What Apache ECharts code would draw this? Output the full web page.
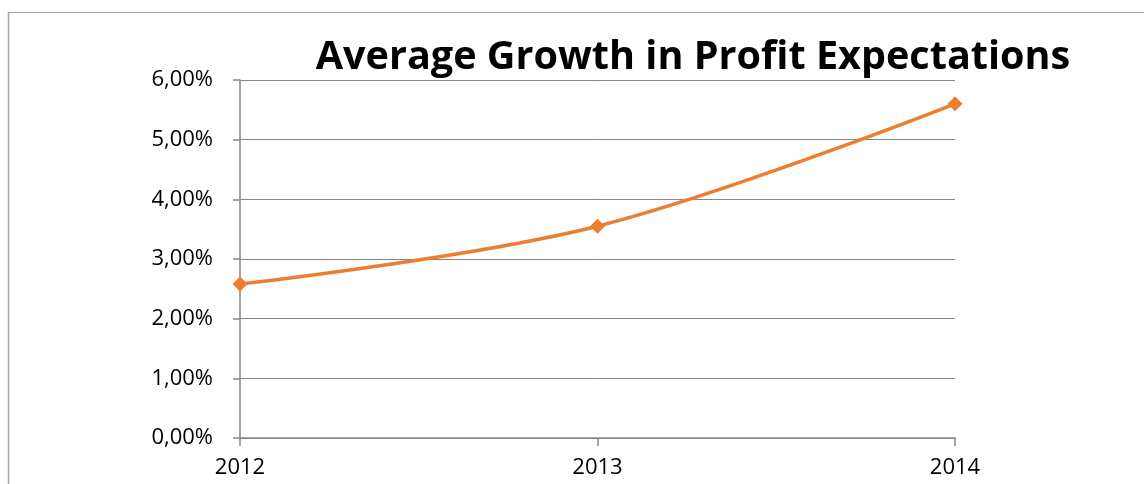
<!DOCTYPE html>
<html>
<head>
<meta charset="utf-8">
<script src="https://cdn.jsdelivr.net/npm/echarts@6/dist/echarts.min.js"></script>
<style>
  html, body { margin: 0; padding: 0; background: #fff; }
  #chart { width: 1144px; height: 484px; }
</style>
</head>
<body>
<div id="chart"></div>
<script>
// data
var years = ['2012', '2013', '2014'];
var growth = [2.58, 3.55, 5.60];
var yTicks = [0, 1, 2, 3, 4, 5, 6];

var axisGray = '#868686';
var fontFam = '"Open Sans", "Liberation Sans", sans-serif';

var chart = echarts.init(document.getElementById('chart'));
var option = {
  animation: false,
  backgroundColor: '#fff',
  title: {
    text: 'Average Growth in Profit Expectations',
    left: 688,
    top: 33,
    textAlign: 'center',
    textStyle: { fontFamily: fontFam, fontWeight: 'bold', fontSize: 39.6, color: '#000' }
  },
  grid: { left: 240, right: 189, top: 80, bottom: 46 },
  graphic: [
    { type: 'line', shape: { x1: 8, y1: 12.5, x2: 1144, y2: 12.5 }, style: { stroke: '#a6a6a6', lineWidth: 1 } },
    { type: 'line', shape: { x1: 8.5, y1: 12, x2: 8.5, y2: 484 }, style: { stroke: '#a6a6a6', lineWidth: 1.5 } }
  ],
  xAxis: {
    type: 'category',
    data: years,
    boundaryGap: false,
    axisLine: { lineStyle: { color: axisGray, width: 1.5 } },
    axisTick: { show: true, length: 8, lineStyle: { color: axisGray, width: 1.5 } },
    axisLabel: { margin: 19, color: '#000', fontSize: 22, fontFamily: fontFam }
  },
  yAxis: {
    type: 'value',
    min: yTicks[0],
    max: yTicks[yTicks.length - 1],
    interval: 1,
    axisLine: { show: true, lineStyle: { color: axisGray, width: 1.5 } },
    axisTick: { show: true, length: 7, lineStyle: { color: axisGray, width: 1.5 } },
    splitLine: { lineStyle: { color: axisGray, width: 1 } },
    axisLabel: {
      margin: 27, color: '#000', fontSize: 22, fontFamily: fontFam,
      formatter: function (v) { return v.toFixed(2).replace('.', ',') + '%'; }
    }
  },
  series: [{
    type: 'line',
    data: growth,
    smooth: 0.35,
    symbol: 'diamond',
    symbolSize: 15,
    lineStyle: { color: '#ED7D31', width: 3.5 },
    itemStyle: { color: '#ED7D31' }
  }]
};
chart.setOption(option);
</script>
</body>
</html>
